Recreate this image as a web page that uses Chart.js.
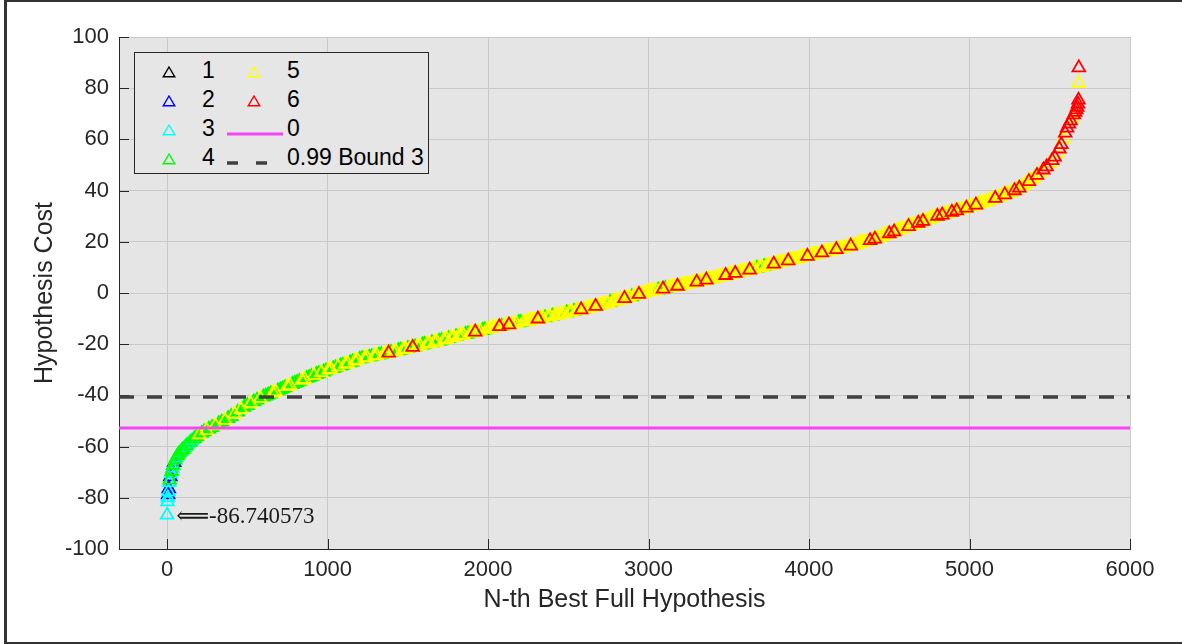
<!DOCTYPE html>
<html lang="en">
<head>
  <meta charset="UTF-8">
  <title>Hypothesis Cost</title>
  <style>
    html, body {
      margin: 0;
      padding: 0;
      background: #fff;
      overflow: hidden;
    }
    .figure {
      position: relative;
      width: 1182px;
      height: 644px;
      font-family: "Liberation Sans", Arial, sans-serif;
    }
    .frame {
      position: absolute;
      left: 4px;
      top: 0;
      width: 1200px;
      height: 640px;
      border: 2px solid #333;
      border-left-width: 3px;
    }
    .chart-wrapper {
      position: absolute;
      left: 0;
      top: 0;
      width: 1182px;
      height: 644px;
    }
    .legend {
      position: absolute;
      left: 134px;
      top: 52px;
      width: 295px;
      height: 122px;
      box-sizing: border-box;
      background: #e6e6e6;
      border: 1px solid #262626;
    }
    .legend-item {
      position: absolute;
      font-size: 23px;
      line-height: 28px;
      height: 28px;
      color: #000;
      white-space: nowrap;
    }
    .legend-mark {
      position: absolute;
    }
    .annotation {
      position: absolute;
      font-family: "Liberation Serif", "DejaVu Serif", serif;
      font-size: 23px;
      color: #1a1a1a;
      white-space: nowrap;
      transform: translateY(-50%);
    }
  </style>
</head>
<body>
  <div class="figure">
    <div class="frame"></div>
    <div class="chart-wrapper">
      <canvas id="cost-chart" width="1182" height="644"></canvas>
    </div>
    <div class="legend" id="legend"></div>
    <div class="annotation" id="annotation"></div>
  </div>

  <script src="https://cdn.jsdelivr.net/npm/chart.js@4.4.0/dist/chart.umd.min.js"></script>
  <script>
    // axis ticks
    const xTicks = [0, 1000, 2000, 3000, 4000, 5000, 6000];
    const yTicks = [-100, -80, -60, -40, -20, 0, 20, 40, 60, 80, 100];
    const xRange = [-300, 6000];

    // hypotheses, sorted by cost (rank, cost, class)
    const headRank = [0, 2, 4, 6, 8, 10, 13, 16, 20, 24, 28, 33, 38, 44, 50, 57, 64, 72, 80, 90,
      100, 110, 120, 132, 144, 156, 170, 185, 200, 215, 230, 245, 260, 280, 300, 320, 340, 360, 380, 400,
      420, 440, 460, 480, 500, 520, 540, 560, 580, 600];
    const headCost = [-86.740573, -81.5, -80.0, -78.8, -77.6, -76.4, -74.0, -73.0, -71.8, -70.6, -69.6, -68.4, -67.3, -66.2, -65.2, -64.4, -63.6, -62.9, -62.3, -61.7,
      -61.1, -60.4, -59.7, -59.0, -58.3, -57.6, -56.9, -56.1, -55.4, -54.8, -54.2, -53.7, -53.2, -52.5, -51.8, -51.1, -50.4, -49.7, -49.0, -48.2,
      -47.3, -46.5, -45.5, -44.6, -43.9, -43.2, -42.5, -41.8, -41.2, -40.6];
    const headClass = [3, 3, 3, 2, 3, 2, 3, 4, 2, 3, 4, 3, 4, 2, 4, 3, 4, 4, 3, 4,
      4, 3, 4, 3, 4, 3, 4, 4, 5, 4, 4, 5, 4, 4, 5, 4, 4, 5, 4, 4,
      5, 4, 5, 4, 4, 5, 4, 4, 5, 4];

    const midRank = [630, 660, 690, 720, 750, 780, 810, 840, 870, 900,
      930, 960, 990, 1020, 1050, 1080, 1110, 1140, 1170, 1200,
      1230, 1260, 1290, 1320, 1350, 1380, 1410, 1440, 1470, 1500,
      1530, 1560, 1590, 1620, 1650, 1680, 1710, 1740, 1770, 1800,
      1830, 1860, 1890, 1920, 1950, 1980, 2010, 2040, 2070, 2100,
      2130, 2160, 2190, 2220, 2250, 2280, 2310, 2340, 2370, 2400,
      2430, 2460, 2490, 2520, 2550, 2580, 2610, 2640, 2670, 2700,
      2730, 2760, 2790, 2820, 2850, 2880, 2910, 2940, 2970, 3000,
      3030, 3060, 3090, 3120, 3150, 3180, 3210, 3240, 3270, 3300,
      3330, 3360, 3390, 3420, 3450, 3480, 3510, 3540, 3570, 3600,
      3630, 3660, 3690, 3720, 3750, 3780, 3810, 3840, 3870, 3900,
      3930, 3960, 3990, 4020, 4050, 4080, 4110, 4140, 4170, 4200,
      4230, 4260, 4290, 4320, 4350, 4380, 4410, 4440, 4470, 4500,
      4530, 4560, 4590, 4620, 4650, 4680, 4710, 4740, 4770, 4800,
      4830, 4860, 4890, 4920, 4950, 4980, 5010, 5040, 5070, 5100,
      5130, 5160, 5190, 5220, 5250, 5280, 5310, 5340, 5370, 5400];
    const midCost = [-39.8, -39.0, -38.2, -37.4, -36.5, -35.7, -34.9, -34.1, -33.3, -32.6,
      -31.8, -31.1, -30.4, -29.8, -29.1, -28.5, -27.8, -27.2, -26.5, -25.8,
      -25.4, -25.0, -24.6, -24.2, -23.8, -23.4, -23.0, -22.5, -22.1, -21.6,
      -21.2, -20.8, -20.3, -19.9, -19.4, -19.0, -18.5, -18.0, -17.5, -17.0,
      -16.6, -16.1, -15.6, -15.2, -14.8, -14.3, -13.9, -13.5, -13.1, -12.8,
      -12.4, -12.0, -11.6, -11.3, -10.9, -10.5, -10.1, -9.8, -9.4, -9.0,
      -8.6, -8.2, -7.7, -7.3, -6.9, -6.5, -6.1, -5.6, -5.2, -4.7,
      -4.2, -3.7, -3.2, -2.6, -2.1, -1.6, -1.1, -0.5, 0.0, 0.5,
      0.9, 1.2, 1.6, 2.0, 2.3, 2.7, 3.1, 3.5, 3.9, 4.3,
      4.7, 5.1, 5.6, 6.0, 6.4, 6.9, 7.3, 7.7, 8.2, 8.6,
      9.0, 9.5, 9.9, 10.4, 10.8, 11.3, 11.7, 12.2, 12.6, 13.1,
      13.5, 14.0, 14.4, 14.9, 15.3, 15.7, 16.1, 16.6, 17.0, 17.4,
      17.9, 18.4, 18.9, 19.5, 20.0, 20.5, 21.1, 21.8, 22.5, 23.2,
      23.9, 24.6, 25.3, 26.0, 26.7, 27.3, 28.0, 28.7, 29.3, 30.0,
      30.5, 31.1, 31.6, 32.1, 32.7, 33.2, 33.8, 34.4, 35.0, 35.7,
      36.3, 37.0, 37.7, 38.4, 39.2, 40.0, 41.0, 42.3, 43.6, 45.0];
    const midClass = [4, 5, 4, 4, 5, 4, 4, 5, 4, 4,
      4, 5, 4, 5, 4, 4, 5, 4, 5, 4,
      5, 4, 5, 4, 5, 6, 5, 4, 5, 4,
      6, 5, 4, 5, 4, 5, 4, 5, 5, 4,
      5, 4, 5, 6, 5, 4, 5, 5, 6, 5,
      6, 5, 4, 5, 5, 5, 6, 5, 5, 4,
      5, 5, 4, 5, 5, 6, 5, 5, 6, 5,
      5, 4, 5, 5, 6, 5, 5, 6, 5, 5,
      5, 4, 6, 5, 5, 6, 5, 5, 5, 6,
      5, 6, 5, 5, 5, 6, 5, 6, 5, 5,
      6, 5, 5, 4, 5, 6, 5, 5, 6, 5,
      5, 5, 6, 5, 5, 6, 5, 5, 6, 5,
      5, 6, 5, 5, 5, 6, 6, 5, 5, 6,
      6, 5, 5, 6, 5, 6, 6, 5, 5, 6,
      6, 5, 6, 6, 5, 6, 5, 6, 5, 5,
      5, 6, 5, 6, 5, 6, 6, 5, 6, 5];

    // second pass of readings between the ones above
    const fillRank = [615, 645, 675, 705, 735, 765, 795, 825, 855, 885,
      915, 945, 975, 1005, 1035, 1065, 1095, 1125, 1155, 1185,
      1215, 1245, 1275, 1305, 1335, 1365, 1395, 1425, 1455, 1485,
      1515, 1545, 1575, 1605, 1635, 1665, 1695, 1725, 1755, 1785,
      1815, 1845, 1875, 1905, 1935, 1965, 1995, 2025, 2055, 2085,
      2115, 2145, 2175, 2205, 2235, 2265, 2295, 2325, 2355, 2385,
      2415, 2445, 2475, 2505, 2535, 2565, 2595, 2625, 2655, 2685,
      2715, 2745, 2775, 2805, 2835, 2865, 2895, 2925, 2955, 2985,
      3015, 3045, 3075, 3105, 3135, 3165, 3195, 3225, 3255, 3285,
      3315, 3345, 3375, 3405, 3435, 3465, 3495, 3525, 3555, 3585,
      3615, 3645, 3675, 3705, 3735, 3765, 3795, 3825, 3855, 3885,
      3915, 3945, 3975, 4005, 4035, 4065, 4095, 4125, 4155, 4185,
      4215, 4245, 4275, 4305, 4335, 4365, 4395, 4425, 4455, 4485,
      4515, 4545, 4575, 4605, 4635, 4665, 4695, 4725, 4755, 4785,
      4815, 4845, 4875, 4905, 4935, 4965, 4995, 5025, 5055, 5085,
      5115, 5145, 5175, 5205, 5235, 5265, 5295, 5325, 5355, 5385];
    const fillCost = [-40.2, -39.4, -38.6, -37.8, -37.0, -36.1, -35.3, -34.5, -33.7, -33.0,
      -32.2, -31.5, -30.8, -30.1, -29.5, -28.8, -28.2, -27.5, -26.9, -26.2,
      -25.6, -25.2, -24.8, -24.4, -24.0, -23.6, -23.2, -22.8, -22.3, -21.9,
      -21.4, -21.0, -20.6, -20.1, -19.7, -19.2, -18.8, -18.3, -17.8, -17.3,
      -16.8, -16.4, -15.9, -15.4, -15.0, -14.6, -14.1, -13.7, -13.3, -13.0,
      -12.6, -12.2, -11.8, -11.5, -11.1, -10.7, -10.3, -10.0, -9.6, -9.2,
      -8.8, -8.4, -8.0, -7.5, -7.1, -6.7, -6.3, -5.9, -5.4, -5.0,
      -4.5, -4.0, -3.5, -2.9, -2.4, -1.9, -1.4, -0.8, -0.3, 0.3,
      0.7, 1.1, 1.4, 1.8, 2.2, 2.5, 2.9, 3.3, 3.7, 4.1,
      4.5, 4.9, 5.4, 5.8, 6.2, 6.7, 7.1, 7.5, 8.0, 8.4,
      8.8, 9.3, 9.7, 10.2, 10.6, 11.1, 11.5, 12.0, 12.4, 12.9,
      13.3, 13.8, 14.2, 14.7, 15.1, 15.5, 15.9, 16.4, 16.8, 17.2,
      17.7, 18.2, 18.7, 19.2, 19.8, 20.3, 20.8, 21.5, 22.2, 22.9,
      23.6, 24.3, 25.0, 25.7, 26.4, 27.0, 27.7, 28.4, 29.0, 29.7,
      30.3, 30.8, 31.4, 31.9, 32.4, 33.0, 33.5, 34.1, 34.7, 35.4,
      36.0, 36.7, 37.4, 38.1, 38.8, 39.6, 40.5, 41.7, 43.0, 44.3];
    const fillClass = [4, 4, 5, 4, 4, 5, 4, 4, 5, 4,
      5, 4, 4, 5, 4, 5, 4, 5, 4, 5,
      4, 5, 4, 5, 4, 5, 4, 5, 4, 5,
      5, 4, 5, 4, 5, 5, 4, 5, 4, 5,
      5, 5, 4, 5, 5, 4, 5, 5, 5, 4,
      5, 5, 5, 4, 5, 5, 5, 5, 4, 5,
      5, 5, 5, 5, 4, 5, 5, 5, 5, 5,
      5, 5, 5, 5, 5, 5, 4, 5, 5, 5,
      5, 5, 5, 4, 5, 5, 5, 5, 5, 5,
      5, 5, 5, 5, 5, 5, 5, 5, 5, 5,
      5, 5, 4, 5, 5, 5, 5, 5, 5, 5,
      5, 5, 5, 5, 5, 5, 5, 5, 5, 5,
      5, 5, 5, 5, 5, 5, 5, 5, 5, 5,
      5, 5, 5, 5, 5, 5, 5, 5, 5, 5,
      5, 5, 5, 5, 5, 5, 5, 5, 5, 5,
      5, 5, 5, 5, 5, 5, 5, 5, 5, 5];

    const tailRank = [5420, 5440, 5460, 5480, 5500, 5515, 5530, 5545, 5560, 5572, 5584, 5596,
      5608, 5620, 5630, 5640, 5650, 5658, 5665, 5671, 5676, 5679, 5680, 5681];
    const tailCost = [46.0, 47.0, 48.1, 49.3, 50.6, 51.8, 53.1, 54.6, 56.3, 58.0, 60.2, 62.5,
      64.5, 66.0, 67.3, 68.5, 69.6, 70.6, 71.6, 72.6, 73.8, 75.4, 82.0, 88.0];
    const tailClass = [6, 5, 6, 6, 5, 6, 6, 5, 6, 6, 5, 6,
      6, 6, 6, 5, 6, 6, 6, 6, 6, 6, 5, 6];

    // classes shown in the legend
    const classNames = ['1', '2', '3', '4', '5', '6'];
    const classColors = ['#000000', '#0000ff', '#00ffff', '#00ff00', '#ffff00', '#ff0000'];

    // reference levels
    const levelNames = ['0', '0.99 Bound 3'];
    const levelValues = [-52.7, -40.6];
    const levelColors = ['#f545f5', '#404040'];

    const xTitle = 'N-th Best Full Hypothesis';
    const yTitle = 'Hypothesis Cost';

    const FONT = '"Liberation Sans", Arial, sans-serif';
    const TEXT_COLOR = '#262626';

    const ranks = headRank.concat(midRank, fillRank, tailRank);
    const costs = headCost.concat(midCost, fillCost, tailCost);
    const classes = headClass.concat(midClass, fillClass, tailClass);

    const pointSets = classNames.map((name, i) => {
      const k = i + 1;
      const data = [];
      ranks.forEach((r, j) => {
        if (classes[j] === k) data.push({ x: r, y: costs[j] });
      });
      return {
        type: 'scatter',
        label: name,
        data,
        pointStyle: 'triangle',
        pointRadius: 7.3,
        pointHoverRadius: 7.3,
        borderWidth: 1.8,
        borderColor: classColors[i],
        backgroundColor: 'rgba(0,0,0,0)',
        order: 10 - k
      };
    });

    const levelSets = levelNames.map((name, i) => ({
      type: 'line',
      label: name,
      data: xRange.map(x => ({ x, y: levelValues[i] })),
      borderColor: levelColors[i],
      borderWidth: i === 0 ? 3 : 3.5,
      borderDash: i === 0 ? [] : [15, 13],
      pointRadius: 0,
      fill: false,
      order: 1 - i
    }));

    const axesPlugin = {
      id: 'axesBackdrop',
      beforeDraw(chart) {
        const { ctx, chartArea: a } = chart;
        ctx.save();
        ctx.fillStyle = '#e5e5e5';
        ctx.fillRect(a.left, a.top, a.right - a.left, a.bottom - a.top);
        ctx.restore();
      },
      beforeDatasetsDraw(chart) {
        // inward tick marks, like the original axes
        const { ctx, chartArea: a, scales: { x, y } } = chart;
        ctx.save();
        ctx.strokeStyle = TEXT_COLOR;
        ctx.lineWidth = 1;
        ctx.beginPath();
        x.ticks.forEach(t => {
          const px = Math.round(x.getPixelForValue(t.value)) + 0.5;
          ctx.moveTo(px, a.bottom);
          ctx.lineTo(px, a.bottom - 10);
        });
        y.ticks.forEach(t => {
          const py = Math.round(y.getPixelForValue(t.value)) + 0.5;
          ctx.moveTo(a.left, py);
          ctx.lineTo(a.left + 10, py);
        });
        ctx.stroke();
        ctx.restore();
      }
    };

    const chart = new Chart(document.getElementById('cost-chart'), {
      data: { datasets: levelSets.concat(pointSets) },
      plugins: [axesPlugin],
      options: {
        responsive: false,
        animation: false,
        events: [],
        layout: { padding: { top: 37, right: 52, left: 0, bottom: 0 } },
        plugins: {
          legend: { display: false },
          tooltip: { enabled: false }
        },
        scales: {
          x: {
            type: 'linear',
            min: xRange[0],
            max: xRange[1],
            afterBuildTicks: s => { s.ticks = xTicks.map(v => ({ value: v })); },
            afterFit: s => { s.height = 95; },
            grid: { color: '#c9c9c9', lineWidth: 1, drawTicks: false },
            border: { display: true, color: TEXT_COLOR, width: 1 },
            ticks: {
              color: TEXT_COLOR,
              font: { family: FONT, size: 22 },
              padding: 8,
              maxRotation: 0,
              callback: v => String(v)
            },
            title: {
              display: true,
              text: xTitle,
              color: TEXT_COLOR,
              font: { family: FONT, size: 25, lineHeight: 1.2 },
              padding: { top: 0, bottom: 29 }
            }
          },
          y: {
            type: 'linear',
            min: yTicks[0],
            max: yTicks[yTicks.length - 1],
            afterBuildTicks: s => { s.ticks = yTicks.map(v => ({ value: v })); },
            afterFit: s => { s.width = 119; },
            grid: { color: '#c9c9c9', lineWidth: 1, drawTicks: false },
            border: { display: true, color: TEXT_COLOR, width: 1 },
            ticks: {
              color: TEXT_COLOR,
              font: { family: FONT, size: 22 },
              padding: 10,
              callback: v => String(v)
            },
            title: {
              display: true,
              text: yTitle,
              color: TEXT_COLOR,
              font: { family: FONT, size: 25, lineHeight: 1.2 },
              padding: { top: 30, bottom: 0 }
            }
          }
        }
      }
    });

    // legend, two columns filled top to bottom
    const legendEntries = classNames.map((name, i) => ({ label: name, kind: 'tri', color: classColors[i] }))
      .concat(levelNames.map((name, i) => ({ label: name, kind: i === 0 ? 'solid' : 'dash', color: levelColors[i] })));
    const $legend = document.getElementById('legend');
    legendEntries.forEach((e, i) => {
      const col = Math.floor(i / 4);
      const row = i % 4;
      const cy = 17 + row * 28.9;
      const markX = col === 0 ? 34 : 119;
      const textX = col === 0 ? 67 : 152;
      const mark = document.createElement('div');
      mark.className = 'legend-mark';
      if (e.kind === 'tri') {
        mark.style.left = (markX - 7) + 'px';
        mark.style.top = (cy - 6) + 'px';
        mark.innerHTML = `<svg width="14" height="12"><polygon points="7,1 12.8,10.8 1.2,10.8" fill="none" stroke="${e.color}" stroke-width="1.4"/></svg>`;
      } else {
        const dash = e.kind === 'dash' ? 'stroke-dasharray="11 18"' : '';
        mark.style.left = '92px';
        mark.style.top = (cy - 4) + 'px';
        mark.innerHTML = `<svg width="57" height="8"><line x1="0" y1="4" x2="56" y2="4" stroke="${e.color}" stroke-width="${e.kind === 'dash' ? 3.5 : 3}" ${dash}/></svg>`;
      }
      $legend.appendChild(mark);
      const text = document.createElement('div');
      text.className = 'legend-item';
      text.style.left = textX + 'px';
      text.style.top = (cy - 14) + 'px';
      text.textContent = e.label;
      $legend.appendChild(text);
    });

    // label of the best hypothesis
    const bestCost = Math.min(...costs);
    const bestRank = ranks[costs.indexOf(bestCost)];
    const $note = document.getElementById('annotation');
    $note.textContent = '\u27F8' + bestCost.toFixed(6);
    $note.style.left = (chart.scales.x.getPixelForValue(bestRank) + 9) + 'px';
    $note.style.top = chart.scales.y.getPixelForValue(bestCost) + 'px';
  </script>
</body>
</html>
